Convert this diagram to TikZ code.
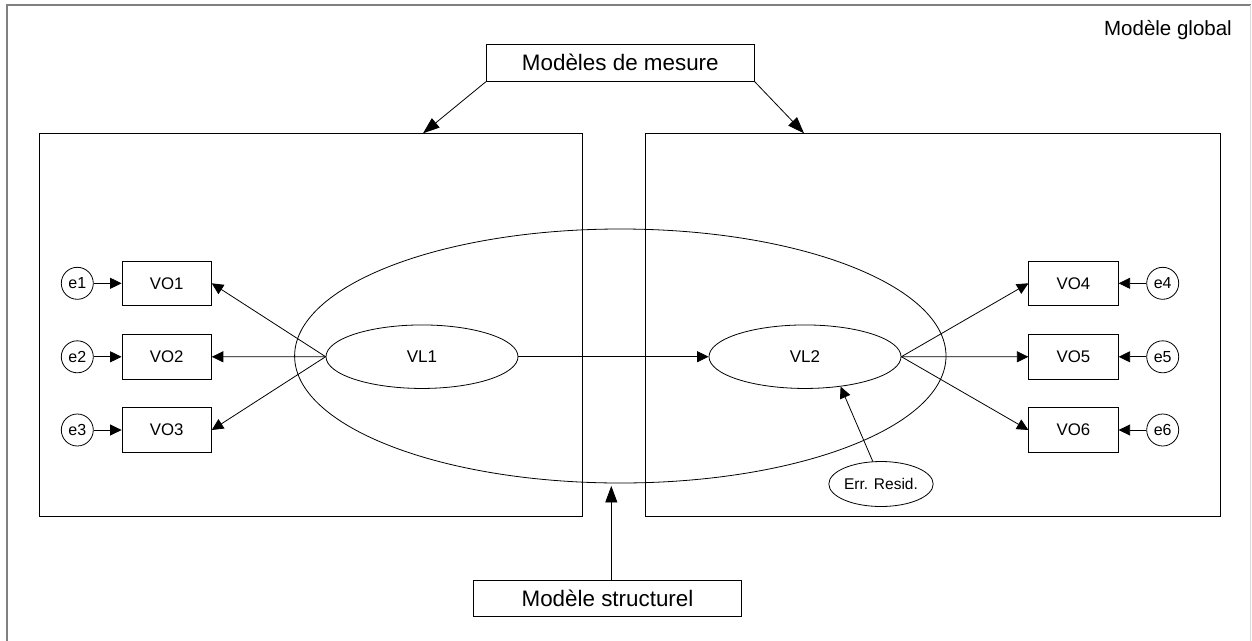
\documentclass[tikz,border=0pt]{standalone}
\usepackage{fontspec}
\setmainfont{Liberation Sans}
\usetikzlibrary{arrows.meta,shapes.geometric}
\begin{document}
\begin{tikzpicture}[x=1pt,y=-1pt,
 every node/.style={inner sep=0pt, font=\fontsize{16.8}{20}\selectfont},
 vo/.style={draw, rectangle, minimum width=89.3pt, minimum height=44.7pt, line width=0.9pt},
 err/.style={draw, circle, minimum size=32pt, line width=0.8pt, font=\fontsize{16}{19}\selectfont},
 vl/.style={draw, ellipse, minimum width=192pt, minimum height=63.5pt, line width=0.8pt, font=\fontsize{17}{20}\selectfont},
 panel/.style={draw, rectangle, line width=1pt},
 lbl/.style={draw, rectangle, line width=0.9pt, font=\fontsize{22.4}{27}\selectfont},
 arr/.style={-{Triangle[length=11.5pt,width=11pt]}, line width=0.8pt},
 bigarr/.style={-{Triangle[length=16.5pt,width=12pt]}, line width=0.8pt}]
\useasboundingbox (0,0) rectangle (1252,640);
% outer frame
\draw[line width=1.5pt, gray] (7,645) -- (7,5) -- (1250.5,5);
\draw[line width=1pt, black!15] (1250.5,5) -- (1250.5,645);
\node[anchor=east, font=\fontsize{20.5}{24}\selectfont] (glob) at (1232,30) {Modèle global};
% panels
\node[panel, minimum width=543.3pt, minimum height=382.7pt] (lp) at (310.65,324.65) {};
\node[panel, minimum width=574.6pt, minimum height=382.7pt] (rp) at (933,324.65) {};
% big ellipse
\node[draw, ellipse, minimum width=651.4pt, minimum height=254pt, line width=0.8pt] (big) at (620.3,356) {};
% labels
\node[lbl, minimum width=268pt, minimum height=37pt] (mm) at (620.3,62.8) {Modèles de mesure};
\node[lbl, minimum width=268.4pt, minimum height=36.7pt] (ms) at (607.5,598.3) {Modèle structurel};
\coordinate (c1) at (423,133.3);
\coordinate (c2) at (804,133.3);
\draw[bigarr] (mm.south west) -- (c1);
\draw[bigarr] (mm.south east) -- (c2);
\draw[bigarr, shorten >=2.5pt] ([xshift=3.8pt]ms.north) -- ([xshift=3.8pt]ms.north |- big.south);
% latent variables
\node[vl] (vl1) at (422,356.7) {VL1};
\node[vl] (vl2) at (805,356.7) {VL2};
% observed
\node[vo] (vo1) at (166.7,283.3) {VO1};
\node[vo] (vo2) at (166.7,356.8) {VO2};
\node[vo] (vo3) at (166.7,430) {VO3};
\node[vo] (vo4) at (1073.5,283.3) {VO4};
\node[vo] (vo5) at (1073.5,356.8) {VO5};
\node[vo] (vo6) at (1073.5,430) {VO6};
% errors
\node[err] (e1) at (77.3,283.3) {e1};
\node[err] (e2) at (77.3,356.8) {e2};
\node[err] (e3) at (77.3,430) {e3};
\node[err] (e4) at (1162.7,283.3) {e4};
\node[err] (e5) at (1162.7,356.8) {e5};
\node[err] (e6) at (1162.7,430) {e6};
\node[draw, ellipse, minimum width=90pt, minimum height=45pt, line width=0.8pt, font=\fontsize{15.5}{18}\selectfont] (er) at (881,484) {Err. Resid.};
% connectors
\draw[arr] (vl1.west) -- (vo1.east);
\draw[arr] (vl1.west) -- (vo2.east);
\draw[arr] (vl1.west) -- (vo3.east);
\draw[arr] (vl2.east) -- (vo4.west);
\draw[arr] (vl2.east) -- (vo5.west);
\draw[arr] (vl2.east) -- (vo6.west);
\draw[arr] (vl1.east) -- (vl2.west);
\draw[arr] (e1) -- (vo1);
\draw[arr] (e2) -- (vo2);
\draw[arr] (e3) -- (vo3);
\draw[arr] (e4) -- (vo4);
\draw[arr] (e5) -- (vo5);
\draw[arr] (e6) -- (vo6);
\draw[arr] (er.110) -- (vl2.-40);
\end{tikzpicture}
\end{document}
